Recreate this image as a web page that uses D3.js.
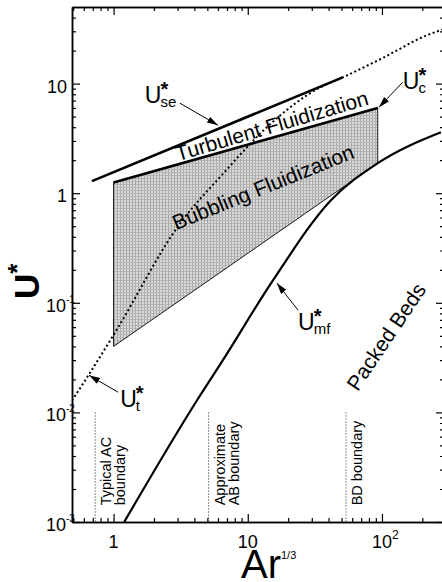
<!DOCTYPE html>
<html>
<head>
<meta charset="utf-8">
<script src="https://cdn.jsdelivr.net/npm/d3@7"></script>
<style>
  body { margin: 0; background: #fff; }
  svg { display: block; }
  text { font-family: "Liberation Sans", Arial, sans-serif; fill: #000; }
</style>
</head>
<body>
<svg id="chart"></svg>
<script>
// axis ranges and ticks
const xDomain = [0.49, 290];
const yDomain = [0.001, 50];
const xTicks = [1, 10, 100];
const yTicks = [0.001, 0.01, 0.1, 1, 10];

// U*_t (dotted)
const utX = [0.49, 0.66, 1.02, 3.13, 6.3, 14.4, 35, 51, 101, 216, 290];
const utY = [0.0128, 0.0225, 0.053, 0.53, 1.43, 4.17, 9.3, 11.4, 17.1, 27.6, 31.5];

// U*_mf (solid)
const umfX = [1.2, 4.19, 6.3, 15.4, 41.5, 93, 275];
const umfY = [0.001, 0.0129, 0.028, 0.16, 0.86, 1.88, 3.6];

// U*_se and U*_c (straight in log-log)
const useX = [0.69, 51];
const useY = [1.29, 11.4];
const ucX = [1, 93];
const ucY = [1.25, 6.0];

// bubbling region polygon
const bubX = [1, 93, 93, 1];
const bubY = [1.25, 6.0, 1.88, 0.04];

// regime boundaries
const boundX = [0.73, 5.1, 54];
const boundText = [["Typical AC", "boundary"], ["Approximate", "AB boundary"], ["BD boundary"]];
const boundTop = 0.01;
const boundLabelY = 0.00142;

// curve labels with arrows
const lblSub = ["se", "c", "t", "mf"];
const lblX = [1.71, 143, 1.12, 23.7];
const lblY = [6.63, 8.9, 0.0111, 0.056];
const arrX0 = [3.12, 143, 1.08, 23.7];
const arrY0 = [6.63, 10.3, 0.0153, 0.0856];
const arrX1 = [6.0, 95, 0.656, 16.5];
const arrY1 = [4.17, 6.09, 0.0218, 0.151];

// region names
const regName = ["Turbulent Fluidization", "Bubbling Fluidization", "Packed Beds"];
const regX = [3.02, 2.92, 66];
const regY = [1.96, 0.46, 0.0153];
const regAngle = [-16.5, -22, -56];

const W = 442, H = 582;
const margin = {top: 7, right: -2, bottom: 60, left: 72};
const iw = W - margin.left - margin.right;
const ih = H - margin.top - margin.bottom;

const svg = d3.select('#chart').attr('width', W).attr('height', H);
const defs = svg.append('defs');

defs.append('marker')
    .attr('id', 'head')
    .attr('viewBox', '0 0 10 6')
    .attr('refX', 10).attr('refY', 3)
    .attr('markerWidth', 11).attr('markerHeight', 7)
    .attr('markerUnits', 'userSpaceOnUse')
    .attr('orient', 'auto')
    .append('path').attr('d', 'M0,0L10,3L0,6Z').attr('fill', '#000');

const pat = defs.append('pattern')
    .attr('id', 'screen')
    .attr('patternUnits', 'userSpaceOnUse')
    .attr('width', 3).attr('height', 3);
pat.append('rect').attr('width', 3).attr('height', 3).attr('fill', '#dadada');
pat.append('rect').attr('width', 1).attr('height', 3).attr('fill', '#a6a6a6');
pat.append('rect').attr('width', 3).attr('height', 1).attr('fill', '#b4b4b4');

defs.append('clipPath').attr('id', 'plotclip')
    .append('rect').attr('width', iw).attr('height', ih);

const g = svg.append('g').attr('transform', `translate(${margin.left},${margin.top})`);

const x = d3.scaleLog().domain(xDomain).range([0, iw]);
const y = d3.scaleLog().domain(yDomain).range([ih, 0]);

// minor tick values
function minors(dom) {
    const out = [];
    for (let e = -4; e <= 3; e++) {
        for (let k = 2; k <= 9; k++) {
            const v = k * Math.pow(10, e);
            if (v > dom[0] && v < dom[1]) out.push(v);
        }
    }
    return out;
}
const xMinor = minors(xDomain);
const yMinor = minors(yDomain);

// axes with inward ticks on all four sides
function frame(axis, tr, majors, minorVals) {
    const a1 = g.append('g').attr('transform', tr)
        .call(axis.tickValues(majors).tickSize(-8).tickSizeOuter(0).tickFormat(''));
    const a2 = g.append('g').attr('transform', tr)
        .call(axis.tickValues(minorVals).tickSize(-4).tickSizeOuter(0).tickFormat(''));
    [a1, a2].forEach(a => {
        a.select('.domain').attr('stroke-width', 1.5);
        a.selectAll('.tick line').attr('stroke-width', 1.2);
    });
}
frame(d3.axisLeft(y), 'translate(0,0)', yTicks, yMinor);
frame(d3.axisRight(y), `translate(${iw},0)`, yTicks, yMinor);
frame(d3.axisTop(x), 'translate(0,0)', xTicks, xMinor);
frame(d3.axisBottom(x), `translate(0,${ih})`, xTicks, xMinor);

function powParts(v) {
    const e = Math.round(Math.log10(v));
    if (e === 0) return ['1', ''];
    if (e === 1) return ['10', ''];
    return ['10', e < 0 ? '-' + (-e) : '' + e];
}

// y tick labels
yTicks.forEach(v => {
    const p = powParts(v);
    g.append('text')
        .attr('x', p[1] ? -6 : -5).attr('y', y(v) + 9)
        .attr('text-anchor', 'end').attr('font-size', 18)
        .text(p[0]);
    if (p[1]) {
        g.append('text')
            .attr('x', -6).attr('y', y(v))
            .attr('font-size', 10)
            .text(p[1]);
    }
});

// x tick labels
xTicks.forEach(v => {
    const p = powParts(v);
    const t = g.append('text')
        .attr('x', x(v)).attr('y', ih + 26)
        .attr('text-anchor', 'middle').attr('font-size', 18)
        .text(p[0]);
    if (p[1]) {
        const w = t.node().getComputedTextLength();
        g.append('text')
            .attr('x', x(v) + w / 2).attr('y', ih + 17)
            .attr('font-size', 12)
            .text(p[1]);
    }
});

// axis titles
const yt = svg.append('text')
    .attr('transform', `translate(39,299) rotate(-90)`)
    .attr('font-size', 35).attr('font-weight', 'bold');
yt.append('tspan').text('U');
yt.append('tspan').attr('dy', -13).attr('font-size', 26).text('*');

const xt = svg.append('text')
    .attr('x', 241).attr('y', 578)
    .attr('font-size', 40);
xt.append('tspan').text('Ar');
xt.append('tspan').attr('dy', -19).attr('font-size', 11).text('1/3');

const plot = g.append('g').attr('clip-path', 'url(#plotclip)');

// bubbling region
plot.append('polygon')
    .attr('points', bubX.map((d, i) => [x(d), y(bubY[i])].join(',')).join(' '))
    .attr('fill', 'url(#screen)')
    .attr('stroke', '#000').attr('stroke-width', 0.9);

const line = d3.line().x(d => x(d[0])).y(d => y(d[1]));

plot.append('path')
    .datum(useX.map((d, i) => [d, useY[i]]))
    .attr('d', line).attr('fill', 'none')
    .attr('stroke', '#000').attr('stroke-width', 2.6);

plot.append('path')
    .datum(ucX.map((d, i) => [d, ucY[i]]))
    .attr('d', line).attr('fill', 'none')
    .attr('stroke', '#000').attr('stroke-width', 2.6);

plot.append('path')
    .datum(umfX.map((d, i) => [d, umfY[i]]))
    .attr('d', line.curve(d3.curveMonotoneX)).attr('fill', 'none')
    .attr('stroke', '#000').attr('stroke-width', 2.2);

plot.append('path')
    .datum(utX.map((d, i) => [d, utY[i]]))
    .attr('d', line.curve(d3.curveMonotoneX)).attr('fill', 'none')
    .attr('stroke', '#000').attr('stroke-width', 2)
    .attr('stroke-dasharray', '2,2.6');

// regime boundaries
boundX.forEach((b, i) => {
    g.append('line')
        .attr('x1', x(b)).attr('x2', x(b))
        .attr('y1', y(boundTop)).attr('y2', ih)
        .attr('stroke', '#333').attr('stroke-width', 1.1)
        .attr('stroke-dasharray', '1,2');
    boundText[i].forEach((s, j) => {
        g.append('text')
            .attr('transform', `translate(${x(b) + 16 + j * 14},${y(boundLabelY)}) rotate(-90)`)
            .attr('font-size', 14.5)
            .text(s);
    });
});

// arrows
lblSub.forEach((s, i) => {
    g.append('line')
        .attr('x1', x(arrX0[i])).attr('y1', y(arrY0[i]))
        .attr('x2', x(arrX1[i])).attr('y2', y(arrY1[i]))
        .attr('stroke', '#000').attr('stroke-width', 1)
        .attr('marker-end', 'url(#head)');
});

// curve labels U*_xx
lblSub.forEach((s, i) => {
    const lg = g.append('g').attr('transform', `translate(${x(lblX[i])},${y(lblY[i])})`);
    const u = lg.append('text').attr('font-size', 23).text('U');
    const w = u.node().getComputedTextLength();
    lg.append('text').attr('x', w - 1).attr('y', 4).attr('font-size', 15).text(s);
    lg.append('text').attr('x', w - 1).attr('y', -7).attr('font-size', 20)
        .attr('font-weight', 'bold').text('*');
});

// region names
regName.forEach((s, i) => {
    g.append('text')
        .attr('transform', `translate(${x(regX[i])},${y(regY[i])}) rotate(${regAngle[i]})`)
        .attr('font-size', 21)
        .text(s);
});
</script>
</body>
</html>
